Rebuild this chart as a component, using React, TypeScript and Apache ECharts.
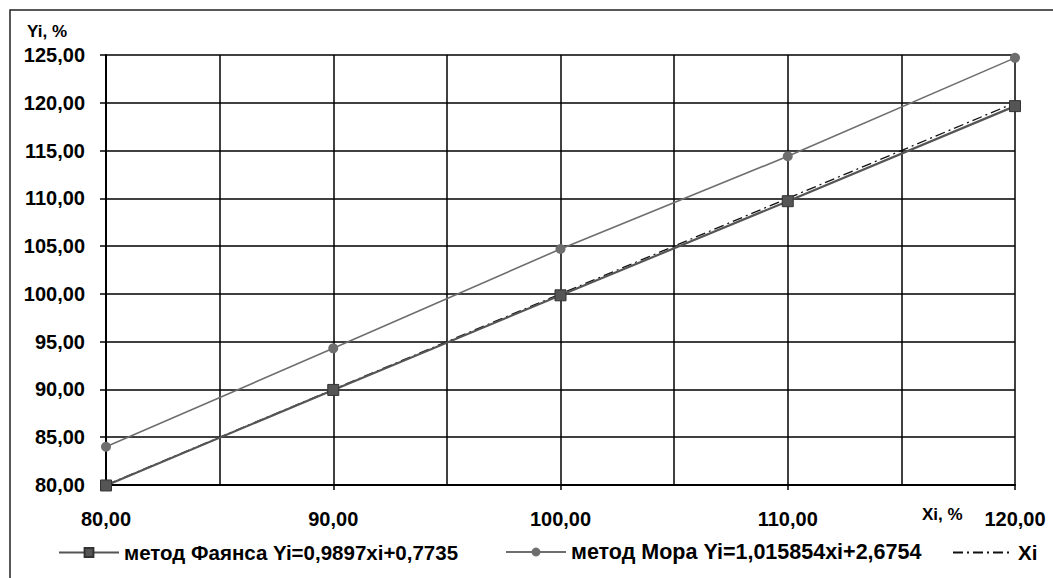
import React, { useEffect, useRef } from "react";
import * as echarts from "echarts";

const xValues = [80, 90, 100, 110, 120];
const faienceValues = [79.95, 89.95, 99.85, 109.7, 119.65];
const moraValues = [84.0, 94.3, 104.7, 114.4, 124.7];
const xiValues = [80, 90, 100, 110, 120];

const faienceName = "метод Фаянса Yi=0,9897xi+0,7735";
const moraName = "метод Мора Yi=1,015854xi+2,6754";
const xiName = "Xi";

const FONT = "'Liberation Sans', Arial, sans-serif";

export default function App() {
  const ref = useRef<HTMLDivElement>(null);
  useEffect(() => {
    if (!ref.current) return;
    const chart = echarts.init(ref.current, undefined, { renderer: "svg" });
    const pair = (ys: number[]) => xValues.map((x, i) => [x, ys[i]]);
    const legendBase = {
      top: 537,
      itemWidth: 60,
      itemHeight: 11,
      textStyle: { fontFamily: FONT, fontWeight: "bold", fontSize: 20.5, color: "#000" },
    };
    const fmt = (v: number) => v.toFixed(2).replace(".", ",");
    chart.setOption({
      animation: false,
      backgroundColor: "#fff",
      grid: { left: 106, top: 55, right: 38, bottom: 93, containLabel: false },
      xAxis: {
        type: "value",
        min: 80,
        max: 120,
        interval: 10,
        axisLine: { show: true, onZero: false, lineStyle: { color: "#000", width: 2 } },
        axisTick: { show: true, length: 5, lineStyle: { color: "#000", width: 1.5 } },
        minorTick: { show: false, splitNumber: 2 },
        splitLine: { show: true, lineStyle: { color: "#000", width: 1.5 } },
        minorSplitLine: { show: true, lineStyle: { color: "#000", width: 1.5 } },
        axisLabel: {
          margin: 24,
          fontFamily: FONT,
          fontWeight: "bold",
          fontSize: 20,
          color: "#000",
          formatter: fmt,
        },
      },
      yAxis: {
        type: "value",
        min: 80,
        max: 125,
        interval: 5,
        axisLine: { show: true, onZero: false, lineStyle: { color: "#000", width: 2 } },
        axisTick: { show: true, length: 6, lineStyle: { color: "#000", width: 1.5 } },
        splitLine: { show: true, lineStyle: { color: "#000", width: 1.5 } },
        axisLabel: {
          margin: 21,
          fontFamily: FONT,
          fontWeight: "bold",
          fontSize: 20,
          color: "#000",
          formatter: fmt,
        },
      },
      legend: [
        { ...legendBase, left: 53, data: [faienceName] },
        {
          ...legendBase,
          top: 536,
          left: 500,
          textStyle: { ...legendBase.textStyle, fontSize: 21.5 },
          data: [moraName],
        },
        { ...legendBase, left: 947, itemStyle: { opacity: 0 }, data: [xiName] },
      ],
      series: [
        {
          name: xiName,
          type: "line",
          data: pair(xiValues),
          showSymbol: false,
          symbol: "none",
          clip: false,
          lineStyle: { color: "#111", width: 1.3, type: [10, 4, 2, 4] },
          itemStyle: { color: "#111" },
          z: 3,
        },
        {
          name: moraName,
          type: "line",
          data: pair(moraValues),
          symbol: "circle",
          symbolSize: 10,
          clip: false,
          lineStyle: { color: "#6e6e6e", width: 1.6 },
          itemStyle: { color: "#6e6e6e" },
          z: 4,
        },
        {
          name: faienceName,
          type: "line",
          data: pair(faienceValues),
          symbol: "rect",
          symbolSize: 11,
          clip: false,
          lineStyle: { color: "#555", width: 2.2 },
          itemStyle: { color: "#555", borderColor: "#333", borderWidth: 1 },
          z: 5,
        },
      ],
      graphic: [
        {
          type: "rect",
          shape: { x: 10, y: 10, width: 1200, height: 800 },
          style: { fill: "none", stroke: "#222", lineWidth: 1.5 },
          silent: true,
        },
        {
          type: "text",
          x: 27,
          y: 23,
          style: { text: "Yi, %", font: `bold 17px ${FONT}`, fill: "#000" },
        },
        {
          type: "text",
          x: 922,
          y: 506,
          style: { text: "Xi, %", font: `bold 17px ${FONT}`, fill: "#000" },
        },
      ],
    });
    return () => chart.dispose();
  }, []);
  return (
    <div
      ref={ref}
      style={{ position: "fixed", left: 0, top: 0, width: 1053, height: 578 }}
    />
  );
}
